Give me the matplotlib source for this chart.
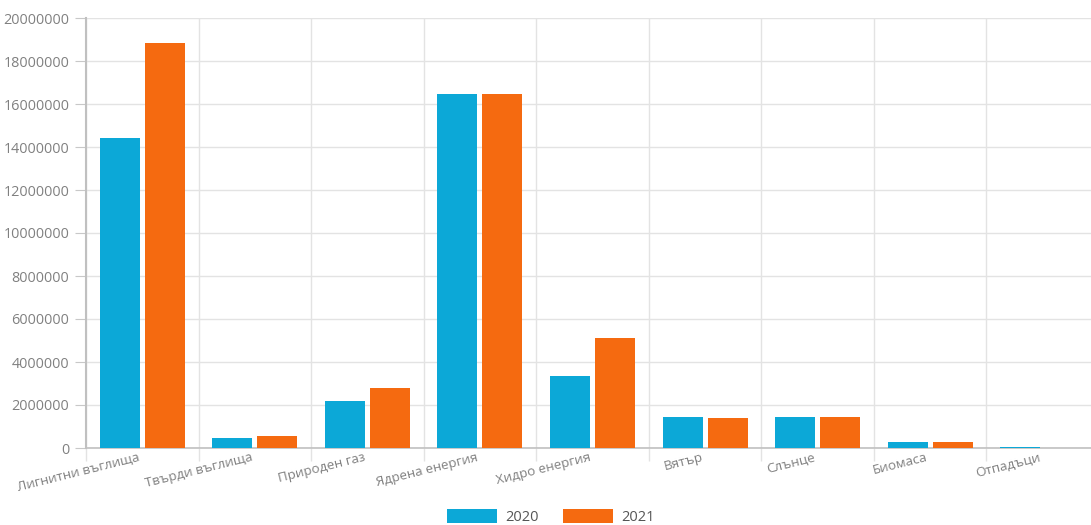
import matplotlib.pyplot as plt
import matplotlib.transforms as mtransforms
import numpy as np

plt.rcParams['font.family'] = ['Open Sans', 'DejaVu Sans']

categories = ['Лигнитни въглища', 'Твърди въглища', 'Природен газ', 'Ядрена енергия',
              'Хидро енергия', 'Вятър', 'Слънце', 'Биомаса', 'Отпадъци']
values_2020 = [14420000, 470000, 2190000, 16470000, 3350000, 1440000, 1440000, 280000, 50000]
values_2021 = [18840000, 560000, 2790000, 16470000, 5120000, 1400000, 1440000, 270000, 20000]
years = ['2020', '2021']
yticks = np.arange(0, 20000001, 2000000)

blue = '#0ca8d7'
orange = '#f56a10'
grey_txt = '#808080'
grid_col = '#e3e3e3'

fig = plt.figure(figsize=(10.91, 5.25), dpi=100)
ax = fig.add_axes([86 / 1091, 77 / 525, 1013 / 1091, 430 / 525])

x = np.arange(len(categories))
w = 0.356
ax.bar(x - 0.2, values_2020, w, color=blue, label=years[0], zorder=3)
ax.bar(x + 0.2, values_2021, w, color=orange, label=years[1], zorder=3)

ax.set_xlim(-0.5, len(categories) - 0.5)
ax.set_ylim(0, 20000000)
ax.set_yticks(yticks)
ax.set_yticklabels([str(v) for v in yticks])

# category boundaries carry the vertical grid and the tick marks
ax.set_xticks(x)
ax.set_xticks(np.arange(len(categories)) - 0.5, minor=True)
ax.set_xticklabels(categories, rotation=14, ha='right', rotation_mode='anchor')
ax.tick_params(axis='x', which='major', length=0, pad=2, labelsize=9.6, labelcolor=grey_txt)
ax.tick_params(axis='x', which='minor', length=9, color=grid_col, width=1)
ax.tick_params(axis='y', length=8, color='#c8c8c8', labelsize=10.4, labelcolor=grey_txt, pad=4)
ax.grid(True, axis='y', color=grid_col, lw=1, zorder=0)
ax.grid(True, axis='x', which='minor', color=grid_col, lw=1, zorder=0)

# nudge the rotated labels a little left of the category centre
shift = mtransforms.ScaledTranslation(-4 / 100, 0, fig.dpi_scale_trans)
for lbl in ax.get_xticklabels():
    lbl.set_transform(lbl.get_transform() + shift)

for s in ['top', 'right']:
    ax.spines[s].set_visible(False)
ax.spines['left'].set_color('#c0c0c0')
ax.spines['left'].set_linewidth(1.5)
ax.spines['bottom'].set_color('#c0c0c0')
ax.spines['bottom'].set_linewidth(1.2)

fig.legend(loc='lower center', bbox_to_anchor=(0.505, -0.025), ncol=2, frameon=False,
           handlelength=3.43, handleheight=1.0, columnspacing=1.65, handletextpad=0.55,
           fontsize=10.5, labelcolor='#555555')

fig.savefig('out.png', dpi=100)
